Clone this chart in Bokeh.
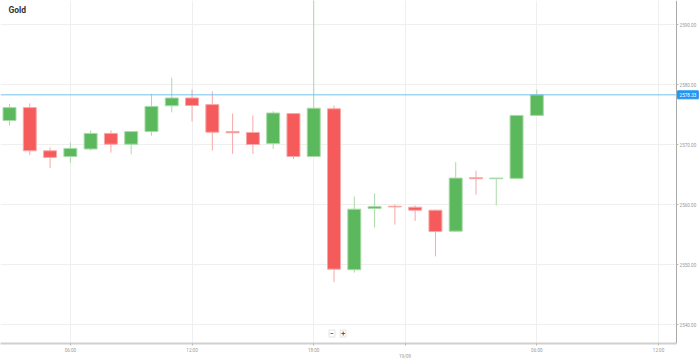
from bokeh.plotting import figure
from bokeh.models import (FixedTicker, PrintfTickFormatter, LinearAxis, Span, Label, Range1d,
                          ColumnDataSource, BoxAnnotation)
from bokeh.embed import file_html
from bokeh.resources import INLINE

# ---- data (hourly candles, Gold) ----
opens  = [2574.05, 2576.2, 2569.0, 2568.05, 2569.3, 2571.9, 2570.1, 2572.2, 2576.5, 2577.8,
          2576.7, 2572.2, 2572.05, 2570.2, 2575.2, 2568.05, 2576.0, 2549.17, 2559.4, 2559.75,
          2559.6, 2559.1, 2555.6, 2564.5, 2564.35, 2564.4, 2574.9]
highs  = [2576.8, 2576.9, 2569.55, 2570.4, 2572.4, 2572.4, 2572.3, 2578.5, 2581.2, 2579.2,
          2578.9, 2575.2, 2574.9, 2575.6, 2575.3, 2600.0, 2576.55, 2561.4, 2561.9, 2560.05,
          2559.9, 2559.2, 2567.1, 2565.7, 2564.45, 2574.9, 2579.2]
lows   = [2573.2, 2568.3, 2566.1, 2567.0, 2569.05, 2568.7, 2568.4, 2571.5, 2575.4, 2573.9,
          2569.05, 2568.5, 2568.5, 2569.3, 2567.6, 2568.0, 2547.1, 2548.7, 2556.2, 2556.7,
          2557.3, 2551.4, 2555.5, 2561.7, 2559.9, 2564.3, 2574.8]
closes = [2576.2, 2569.0, 2567.9, 2569.4, 2571.9, 2570.1, 2572.2, 2576.4, 2577.8, 2576.55,
          2572.1, 2572.0, 2570.05, 2575.3, 2568.05, 2576.1, 2549.27, 2559.27, 2559.7, 2559.65,
          2559.1, 2555.55, 2564.45, 2564.35, 2564.45, 2574.9, 2578.33]
last_price = 2578.33
x_tick_pos = [3, 9, 15, 19.5, 26, 32]
x_tick_labels = ["06:00", "12:00", "18:00", "\n19/09", "06:00", "12:00"]
y_ticks = [2540, 2550, 2560, 2570, 2580, 2590]
title_text = "Gold"

GREEN = "#5cb85c"
RED = "#f55b5b"
GREEN_W = "#a9dba9"
RED_W = "#f7a8a8"

X0, X_AXIS, X1 = -0.444, 32.89, 34.02
Y0, Y1 = 2536.88, 2594.05

idx = list(range(len(opens)))
up = [c >= o for o, c in zip(opens, closes)]
src = ColumnDataSource(dict(
    x=idx,
    top=[max(o, c) for o, c in zip(opens, closes)],
    bottom=[min(o, c) for o, c in zip(opens, closes)],
    high=highs, low=lows,
    fill=[GREEN if u else RED for u in up],
    wick=[GREEN_W if u else RED_W for u in up],
))

p = figure(width=699, height=362, output_backend="svg", toolbar_location=None,
           x_range=Range1d(X0, X1), y_range=Range1d(Y0, Y1),
           y_axis_location=None, min_border=0, min_border_bottom=19)
p.outline_line_color = None
p.background_fill_color = "white"
p.border_fill_color = "white"

FONT = "Roboto"
TICK_FS = "4.6px"

# x axis
xa = p.xaxis[0]
xa.axis_label = None
xa.bounds = (X0, X_AXIS)
xa.ticker = FixedTicker(ticks=x_tick_pos)
xa.major_label_overrides = {k: v for k, v in zip(x_tick_pos, x_tick_labels)}
xa.axis_line_color = "#d0d0d0"
xa.axis_line_width = 2
xa.major_tick_line_color = "#bbbbbb"
xa.major_tick_in = 0
xa.major_tick_out = 2
xa.minor_tick_line_color = None
xa.major_label_text_font = FONT
xa.major_label_text_font_size = TICK_FS
xa.major_label_text_color = "#999999"
xa.major_label_standoff = 2

# right y axis, drawn at the right edge of the candle area
ya = LinearAxis(ticker=FixedTicker(ticks=y_ticks), formatter=PrintfTickFormatter(format="%.2f"),
                fixed_location=X_AXIS)
ya.axis_label = None
ya.axis_line_color = "#aaaaaa"
ya.axis_line_width = 1
ya.major_tick_line_color = "#bbbbbb"
ya.major_tick_in = 0
ya.major_tick_out = 2
ya.minor_tick_line_color = None
ya.major_label_text_font = FONT
ya.major_label_text_font_size = TICK_FS
ya.major_label_text_color = "#999999"
ya.major_label_standoff = 1
p.add_layout(ya, "right")

p.xgrid.ticker = FixedTicker(ticks=x_tick_pos)
p.xgrid.grid_line_color = "#efefef"
p.ygrid.grid_line_color = "#efefef"
p.ygrid.ticker = FixedTicker(ticks=y_ticks)

# white area behind the price scale (covers grid lines there)
p.add_layout(BoxAnnotation(left=X_AXIS, fill_color="white", fill_alpha=1, line_color=None,
                           level="underlay"))

# candles
p.segment(x0="x", x1="x", y0="low", y1="high", line_color="wick", line_width=1, source=src)
p.vbar(x="x", width=0.64, top="top", bottom="bottom", fill_color="fill",
       line_color="wick", line_width=1, source=src)

# last price line + tag
p.add_layout(Span(location=last_price, dimension="width", line_color="#74c0f2", line_width=1))
p.add_layout(Label(x=X_AXIS + 0.05, y=last_price, text=f"{last_price:.2f}", text_font=FONT,
                   text_font_size="4.6px", text_color="white", text_baseline="middle",
                   background_fill_color="#2196f3", border_line_color="#2196f3",
                   padding=2))

# title
p.add_layout(Label(x=-0.05, y=2592.4, text=title_text, text_font=FONT, text_font_style="bold",
                   text_font_size="8.5px", text_color="#333333", text_baseline="middle"))

# zoom buttons
for xx, t in [(15.9, "−"), (16.45, "+")]:
    p.add_layout(Label(x=xx, y=2538.55, text=t, text_font=FONT, text_font_style="bold",
                       text_font_size="7px", text_color="#555555", text_baseline="middle",
                       text_align="center", background_fill_color="white",
                       border_line_color="#e3e3e3", padding=1))

open("out.html", "w").write(file_html(p, INLINE))
